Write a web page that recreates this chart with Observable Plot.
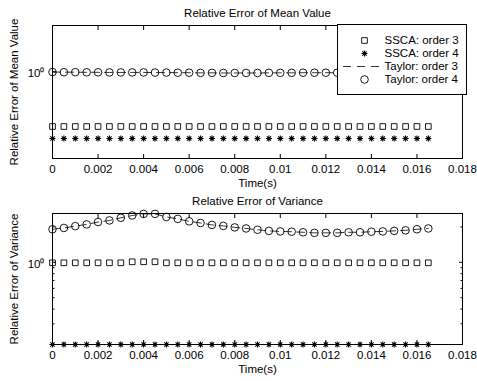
<!DOCTYPE html>
<html><head><meta charset="utf-8">
<script src="https://cdn.jsdelivr.net/npm/d3@7"></script>
<script src="https://cdn.jsdelivr.net/npm/@observablehq/plot@0.6"></script>
<style>
body{margin:0;background:#fff;}
#wrap{position:relative;width:477px;height:381px;font-family:"Liberation Sans",Arial,Helvetica,sans-serif;background:#fff;}
#wrap svg{display:block;}
#legend{position:absolute;left:337px;top:24px;border:1px solid #000;background:#fff;width:128px;height:69px;}
</style></head><body><div id="wrap"><div id="top"></div><div id="bottom"></div><div id="legend"></div></div>
<script>
// ---------- data ----------
const time = [0,0.0005,0.001,0.0015,0.002,0.0025,0.003,0.0035,0.004,0.0045,0.005,0.0055,0.006,0.0065,0.007,0.0075,0.008,0.0085,0.009,0.0095,0.01,0.0105,0.011,0.0115,0.012,0.0125,0.013,0.0135,0.014,0.0145,0.015,0.0155,0.016,0.0165];
const xTicks = [0,0.002,0.004,0.006,0.008,0.01,0.012,0.014,0.016,0.018];
const xTickLabels = ["0","0.002","0.004","0.006","0.008","0.01","0.012","0.014","0.016","0.018"];
const seriesNames = ["SSCA: order 3","SSCA: order 4","Taylor: order 3","Taylor: order 4"];

// Relative error of mean value
const meanSSCA3 = [0.0128,0.0128,0.0128,0.0128,0.0128,0.0128,0.0128,0.0128,0.0128,0.0128,0.0128,0.0128,0.0128,0.0128,0.0128,0.0128,0.0128,0.0128,0.0128,0.0128,0.0128,0.0128,0.0128,0.0128,0.0128,0.0128,0.0128,0.0128,0.0128,0.0128,0.0128,0.0128,0.0128,0.0128];
const meanSSCA4 = [0.0049,0.0049,0.0049,0.0049,0.0049,0.0049,0.0049,0.0049,0.0049,0.0049,0.0049,0.0049,0.0049,0.0049,0.0049,0.0049,0.0049,0.0049,0.0049,0.0049,0.0049,0.0049,0.0049,0.0049,0.0049,0.0049,0.0049,0.0049,0.0049,0.0049,0.0049,0.0049,0.0049,0.0049];
const meanTaylor3 = [0.98,0.97,0.97,0.96,0.96,0.95,0.95,0.95,0.95,0.94,0.94,0.93,0.93,0.92,0.92,0.91,0.91,0.91,0.91,0.92,0.92,0.92,0.93,0.93,0.93,0.93,0.94,0.94,0.94,0.94,0.94,0.94,0.94,0.94];
const meanTaylor4 = [0.98,0.97,0.97,0.96,0.96,0.95,0.95,0.95,0.95,0.94,0.94,0.93,0.93,0.92,0.92,0.91,0.91,0.91,0.91,0.92,0.92,0.92,0.93,0.93,0.93,0.93,0.94,0.94,0.94,0.94,0.94,0.94,0.94,0.94];

// Relative error of variance
const varSSCA3 = [0.99,0.99,0.99,0.99,0.99,0.99,0.99,1.01,1.01,1.01,0.99,0.99,0.99,0.99,0.99,0.99,0.99,0.99,0.99,0.99,0.99,0.99,0.99,0.99,0.99,0.99,0.99,0.99,0.99,0.99,0.99,0.99,0.99,0.99];
const varSSCA4 = [0.2,0.2,0.2,0.2,0.2,0.2,0.2,0.2,0.2,0.2,0.2,0.2,0.2,0.2,0.2,0.2,0.2,0.2,0.2,0.2,0.2,0.2,0.2,0.2,0.2,0.2,0.2,0.2,0.2,0.2,0.2,0.2,0.2,0.2];
const varTaylor3 = [1.91,1.96,2.03,2.10,2.20,2.27,2.39,2.50,2.58,2.58,2.43,2.34,2.23,2.16,2.08,2.04,1.98,1.94,1.89,1.85,1.83,1.82,1.80,1.78,1.78,1.78,1.80,1.80,1.82,1.83,1.85,1.87,1.91,1.94];
const varTaylor4 = [1.91,1.96,2.03,2.10,2.20,2.27,2.39,2.50,2.58,2.58,2.43,2.34,2.23,2.16,2.08,2.04,1.98,1.94,1.89,1.85,1.83,1.82,1.80,1.78,1.78,1.78,1.80,1.80,1.82,1.83,1.85,1.87,1.91,1.94];

const meanYDomain = [0.001, 40];
const varYDomain = [0.2, 2.6];
const yMajorTicks = [1];
const yMajorLabels = ["10\u2070"];
const varYMinorTicks = [0.3,0.4,0.5,0.6,0.7,0.8,0.9,2];

// ---------- drawing ----------
const FONT = "Liberation Sans, Arial, Helvetica, sans-serif";
const asterisk8 = {
  draw(ctx, size) {
    const a = Math.sqrt(size / Math.PI) * 0.9, d = a * Math.SQRT1_2;
    ctx.moveTo(-a, 0); ctx.lineTo(a, 0);
    ctx.moveTo(0, -a); ctx.lineTo(0, a);
    ctx.moveTo(-d, -d); ctx.lineTo(d, d);
    ctx.moveTo(-d, d); ctx.lineTo(d, -d);
  }
};
const xLabelOf = new Map(xTicks.map((v, i) => [v, xTickLabels[i]]));
const yLabelOf = new Map(yMajorTicks.map((v, i) => [v, yMajorLabels[i]]));

function panel(o) {
  const rows = time.map((t, i) => ({t, s3: o.s3[i], s4: o.s4[i], t3: o.t3[i], t4: o.t4[i]}));
  const blank = () => "";
  const marks = [
    Plot.frame({stroke: "#000", strokeWidth: 1}),
    Plot.axisX({anchor: "bottom", ticks: xTicks, tickSize: -4, tickFormat: blank, label: null}),
    Plot.axisX({anchor: "top", ticks: xTicks, tickSize: -4, tickFormat: blank, label: null}),
    Plot.axisX({anchor: "bottom", ticks: xTicks, tickSize: 0, tickPadding: 6, tickFormat: d => xLabelOf.get(d), label: null}),
    Plot.axisY({anchor: "left", ticks: yMajorTicks, tickSize: -4, tickFormat: blank, label: null}),
    Plot.axisY({anchor: "right", ticks: yMajorTicks, tickSize: -4, tickFormat: blank, label: null}),
    Plot.axisY({anchor: "left", ticks: yMajorTicks, tickSize: 0, tickPadding: 8, tickFormat: d => yLabelOf.get(d), label: null, dy: 2}),
  ];
  if (o.minor) {
    marks.push(
      Plot.axisY({anchor: "left", ticks: o.minor, tickSize: -2.5, tickFormat: blank, label: null}),
      Plot.axisY({anchor: "right", ticks: o.minor, tickSize: -2.5, tickFormat: blank, label: null})
    );
  }
  marks.push(
    Plot.line(rows, {x: "t", y: "t3", stroke: "#000", strokeWidth: 0.8, strokeDasharray: "8,5"}),
    Plot.dot(rows, {x: "t", y: "t4", symbol: "circle", r: 3.8, stroke: "#000", fill: "none", strokeWidth: 0.9}),
    Plot.dot(rows, {x: "t", y: "s3", symbol: "square", r: 3.2, stroke: "#000", fill: "none", strokeWidth: 0.9}),
    Plot.dot(rows, {x: "t", y: "s4", symbol: asterisk8, r: 3.4, stroke: "#000", fill: "none", strokeWidth: 1.1}),
    Plot.text([o.title], {text: d => d, frameAnchor: "top", dy: -12, lineAnchor: "middle"}),
    Plot.text([o.ylabel], {text: d => d, frameAnchor: "left", textAnchor: "middle", rotate: -90, dx: -38, lineAnchor: "middle"}),
    Plot.text(["Time(s)"], {text: d => d, frameAnchor: "bottom", dy: 25, lineAnchor: "middle"})
  );
  return Plot.plot({
    width: 477, height: o.height,
    marginLeft: 52, marginRight: 15, marginTop: o.marginTop, marginBottom: o.marginBottom,
    style: {fontFamily: FONT, fontSize: "11.5px", color: "#000", background: "#fff", overflow: "visible"},
    x: {domain: [0, 0.018]},
    y: {type: "log", domain: o.yDomain},
    marks
  });
}

document.getElementById("top").append(panel({
  height: 190, marginTop: 25, marginBottom: 32, yDomain: meanYDomain,
  s3: meanSSCA3, s4: meanSSCA4, t3: meanTaylor3, t4: meanTaylor4,
  title: "Relative Error of Mean Value", ylabel: "Relative Error of Mean Value"
}));
document.getElementById("bottom").append(panel({
  height: 191, marginTop: 23, marginBottom: 37, yDomain: varYDomain, minor: varYMinorTicks,
  s3: varSSCA3, s4: varSSCA4, t3: varTaylor3, t4: varTaylor4,
  title: "Relative Error of Variance", ylabel: "Relative Error of Variance"
}));

// legend
const legendSymbols = ["square", asterisk8, null, "circle"];
const legendR = [3.2, 3.4, null, 3.8];
document.getElementById("legend").append(Plot.plot({
  width: 128, height: 69, marginLeft: 0, marginRight: 0, marginTop: 8.5, marginBottom: 8.5,
  style: {fontFamily: FONT, fontSize: "11.5px", color: "#000", background: "#fff"},
  y: {type: "point", domain: seriesNames, axis: null},
  marks: [
    Plot.ruleY([seriesNames[2]], {y: d => d, insetLeft: 5, insetRight: 86, stroke: "#000", strokeWidth: 0.8, strokeDasharray: "8,6"}),
    ...seriesNames.map((n, i) => legendSymbols[i] == null ? null :
      Plot.dot([n], {y: d => d, frameAnchor: "left", dx: 26, symbol: legendSymbols[i], r: legendR[i], stroke: "#000", fill: "none", strokeWidth: i === 1 ? 1.1 : 0.9})),
    Plot.text(seriesNames, {y: d => d, text: d => d, frameAnchor: "left", dx: 46, textAnchor: "start"})
  ]
}));
</script>
</body></html>
